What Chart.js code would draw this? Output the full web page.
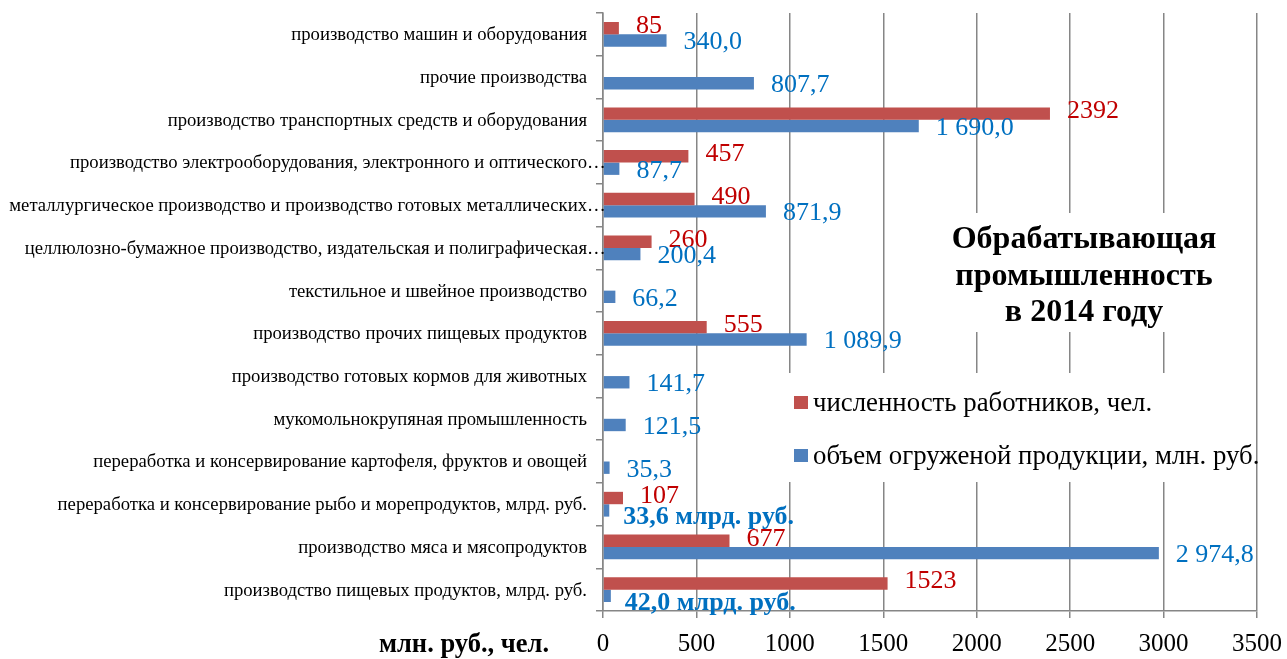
<!DOCTYPE html>
<html lang="ru">
<head>
    <meta charset="UTF-8">
    <title>Обрабатывающая промышленность в 2014 году</title>
    <script src="https://cdn.jsdelivr.net/npm/chart.js"></script>
    <style>
        body { margin: 0; background: #fff; }
        .chart-box { width: 1287px; height: 659px; }
    </style>
</head>
<body>
    <div class="chart-box">
        <canvas id="industryChart"></canvas>
    </div>

    <script>
        // Отрасли (сверху вниз)
        const categories = [
            'производство машин и оборудования',
            'прочие производства',
            'производство транспортных средств и оборудования',
            'производство электрооборудования, электронного и оптического…',
            'металлургическое производство и производство готовых металлических…',
            'целлюлозно-бумажное производство, издательская и полиграфическая…',
            'текстильное и швейное производство',
            'производство прочих пищевых продуктов',
            'производство готовых кормов для животных',
            'мукомольнокрупяная промышленность',
            'переработка и консервирование картофеля, фруктов и овощей',
            'переработка и консервирование рыбо и морепродуктов, млрд. руб.',
            'производство мяса и мясопродуктов',
            'производство пищевых продуктов, млрд. руб.'
        ];

        // численность работников, чел.
        const workers = [85, null, 2392, 457, 490, 260, null, 555, null, null, null, 107, 677, 1523];

        // объем огруженой продукции, млн. руб.
        const shipped = [340.0, 807.7, 1690.0, 87.7, 871.9, 200.4, 66.2, 1089.9, 141.7, 121.5, 35.3, 33.6, 2974.8, 42.0];

        // строки, где объем указан в млрд. руб.
        const billionRows = [false, false, false, false, false, false, false, false, false, false, false, true, false, true];

        const xTicks = [0, 500, 1000, 1500, 2000, 2500, 3000, 3500];

        const seriesNames = ['численность работников, чел.', 'объем огруженой продукции, млн. руб.'];
        const titleLines = ['Обрабатывающая', 'промышленность', 'в 2014 году'];
        const axisTitle = 'млн. руб., чел.';

        const SERIF = '"Liberation Serif", "Times New Roman", serif';
        const GRID = '#868686';

        function fmtVolume(v) {
            const parts = v.toFixed(1).split('.');
            const whole = parts[0].replace(/\B(?=(\d{3})+(?!\d))/g, ' ');
            return whole + ',' + parts[1];
        }

        // подписи категорий: как в Excel, многоточие выходит за правый край текста
        const categoryLabels = {
            id: 'categoryLabels',
            afterDraw(chart) {
                const ctx = chart.ctx;
                const yScale = chart.scales.y;
                const right = yScale.right - 16;
                ctx.save();
                ctx.fillStyle = '#000';
                ctx.font = '18.7px ' + SERIF;
                ctx.textBaseline = 'middle';
                chart.data.labels.forEach((label, i) => {
                    const y = yScale.getPixelForTick(i) + 1;
                    if (label.endsWith('…')) {
                        ctx.textAlign = 'right';
                        ctx.fillText(label.slice(0, -1), right, y);
                        ctx.textAlign = 'left';
                        ctx.fillText('…', right, y);
                    } else {
                        ctx.textAlign = 'right';
                        ctx.fillText(label, right, y);
                    }
                });
                ctx.restore();
            }
        };

        // белые подложки под заголовок и легенду (перекрывают сетку)
        const boxesPlugin = {
            id: 'boxes',
            beforeDatasetsDraw(chart) {
                const ctx = chart.ctx;
                ctx.save();
                ctx.fillStyle = '#fff';
                ctx.fillRect(886, 213, 364, 119);
                ctx.fillRect(745, 373, 505, 109);
                ctx.restore();
            },
            afterDraw(chart) {
                const ctx = chart.ctx;
                ctx.save();

                // заголовок
                ctx.fillStyle = '#000';
                ctx.font = 'bold 32px ' + SERIF;
                ctx.textAlign = 'center';
                ctx.textBaseline = 'alphabetic';
                titleLines.forEach((line, i) => {
                    ctx.fillText(line, 1084, 248 + i * 36.5);
                });

                // легенда
                ctx.font = '26.8px ' + SERIF;
                ctx.textAlign = 'left';
                ctx.textBaseline = 'middle';
                chart.data.datasets.forEach((ds, i) => {
                    const y = 403 + i * 53;
                    ctx.fillStyle = ds.backgroundColor;
                    ctx.fillRect(794, y - 7, 14, 13);
                    ctx.fillStyle = '#000';
                    ctx.fillText(ds.label, 813, y + 1);
                });

                // подпись оси
                ctx.font = 'bold 26.5px ' + SERIF;
                ctx.textAlign = 'right';
                ctx.fillText(axisTitle, 549, 645);
                ctx.restore();
            }
        };

        // подписи значений у столбцов
        const valueLabels = {
            id: 'valueLabels',
            afterDatasetsDraw(chart) {
                const ctx = chart.ctx;
                ctx.save();
                ctx.textAlign = 'left';
                ctx.textBaseline = 'middle';
                chart.data.datasets.forEach((ds, di) => {
                    const meta = chart.getDatasetMeta(di);
                    meta.data.forEach((bar, i) => {
                        const v = ds.data[i];
                        if (v === null) return;
                        if (di === 0) {
                            ctx.fillStyle = '#C00000';
                            ctx.font = '26px ' + SERIF;
                            ctx.fillText(String(v), bar.x + 17, bar.y - 2);
                        } else {
                            ctx.fillStyle = '#0070C0';
                            if (billionRows[i]) {
                                ctx.font = 'bold 26px ' + SERIF;
                                ctx.fillText(fmtVolume(v) + ' млрд. руб.', bar.x + 14, bar.y + 7);
                            } else {
                                ctx.font = '26px ' + SERIF;
                                ctx.fillText(fmtVolume(v), bar.x + 17, bar.y + 2);
                            }
                        }
                    });
                });
                ctx.restore();
            }
        };

        new Chart(document.getElementById('industryChart'), {
            type: 'bar',
            data: {
                labels: categories,
                datasets: [
                    {
                        label: seriesNames[0],
                        data: workers,
                        backgroundColor: '#C0504D',
                        barPercentage: 1,
                        categoryPercentage: 0.58
                    },
                    {
                        label: seriesNames[1],
                        data: shipped,
                        backgroundColor: '#4F81BD',
                        barPercentage: 1,
                        categoryPercentage: 0.58
                    }
                ]
            },
            options: {
                indexAxis: 'y',
                responsive: true,
                maintainAspectRatio: false,
                animation: false,
                layout: { padding: { top: 13, right: 30, left: 0, bottom: 0 } },
                plugins: {
                    legend: { display: false },
                    tooltip: { enabled: false }
                },
                scales: {
                    x: {
                        min: 0,
                        max: 3500,
                        afterBuildTicks(scale) {
                            scale.ticks = xTicks.map(v => ({ value: v }));
                        },
                        afterFit(scale) {
                            scale.height = 48;
                            scale.paddingLeft = 0;
                            scale.paddingRight = 0;
                        },
                        grid: { color: GRID, lineWidth: 1.5, tickLength: 7 },
                        border: { color: GRID, width: 1.5 },
                        ticks: {
                            color: '#000',
                            font: { family: SERIF, size: 25 },
                            padding: 11,
                            maxRotation: 0,
                            callback: (v) => String(v)
                        }
                    },
                    y: {
                        afterFit(scale) {
                            scale.width = 603;
                            scale.paddingTop = 0;
                            scale.paddingBottom = 0;
                        },
                        grid: { drawOnChartArea: false, color: GRID, lineWidth: 1.5, tickLength: 7 },
                        border: { color: GRID, width: 1.5 },
                        ticks: { display: false }
                    }
                }
            },
            plugins: [boxesPlugin, valueLabels, categoryLabels]
        });
    </script>
</body>
</html>
